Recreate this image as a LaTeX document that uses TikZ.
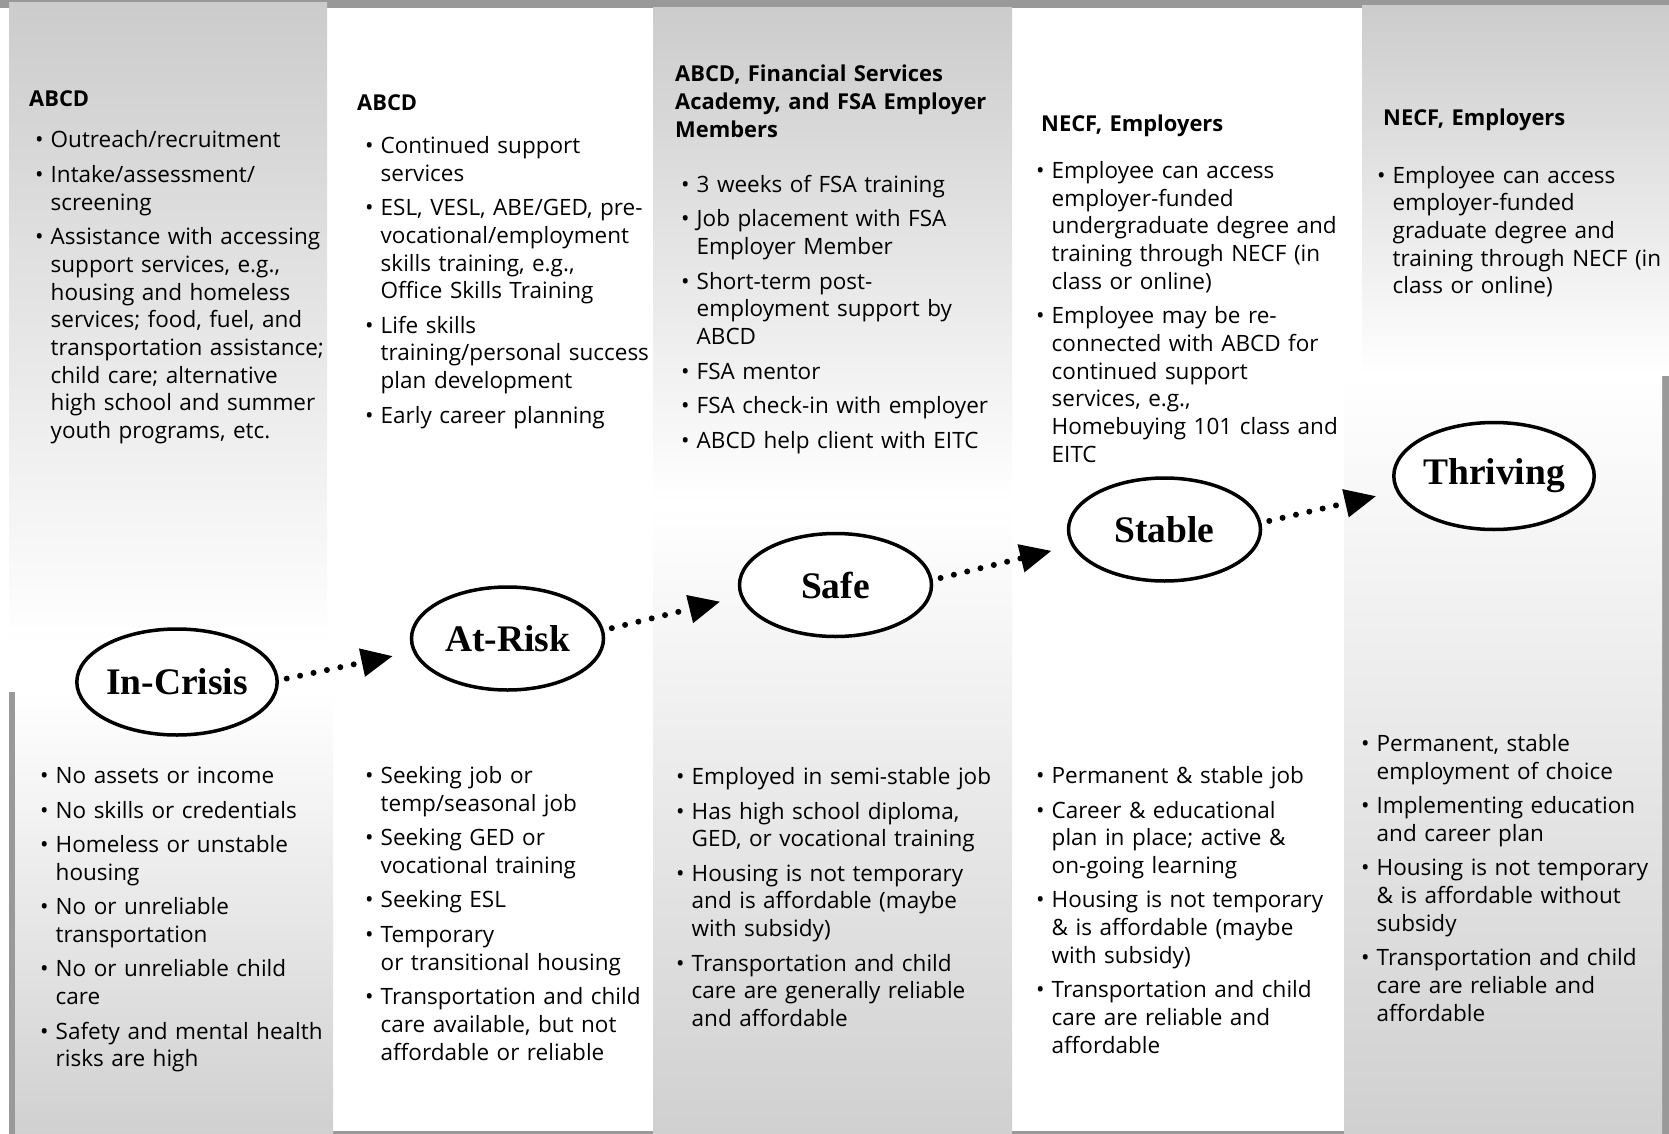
\documentclass[tikz,border=0pt]{standalone}
\usepackage{fontspec}
\setmainfont{Open Sans}
\newfontfamily\labelfont{Liberation Serif}
\usetikzlibrary{shapes.geometric,arrows.meta}
\definecolor{bandgray}{HTML}{999999}
\definecolor{topgray}{HTML}{CCCCCC}
\definecolor{botgray}{HTML}{D0D0D0}
\newcommand\nl{\hfil\break}
\newcommand\bul[1]{\par\hangindent=15.5pt\hangafter=1\noindent\makebox[15.5pt][l]{•}\strut#1\par}
\tikzset{
  blk/.style={anchor=north west, inner sep=0pt, text width=400pt, align=left,
    font=\fontsize{22.5}{27.7}\selectfont,
    execute at begin node={\setlength{\parskip}{6.8pt}}},
  hdr/.style={blk, font=\bfseries\fontsize{21.9}{27.7}\selectfont},
  stage/.style={ellipse, draw=black, line width=3.5pt, fill=white,
    minimum width=192pt, minimum height=103pt, inner sep=0pt,
    font=\labelfont\bfseries\fontsize{37.5}{40}\selectfont},
  flow/.style={line width=6pt, line cap=round, dash pattern=on 0pt off 13.7pt,
    -{Triangle[length=31pt,width=29pt,line width=0pt]}, shorten >=21pt, shorten <=8pt},
}
\begin{document}
\begin{tikzpicture}[x=1pt,y=-1pt]
\useasboundingbox (0,0) rectangle (1669,1134);
% background
\fill[white] (0,0) rectangle (1669,1134);
\fill[bandgray] (0,0) rectangle (1669,8);
\shade[top color=topgray, bottom color=white] (9,3) rectangle (327,645);
\shade[top color=topgray, bottom color=white] (653,8) rectangle (1012,505);
\shade[top color=topgray, bottom color=white] (1362,6) rectangle (1669,375);
\fill[bandgray] (9,692) rectangle (15,1134);
\fill[bandgray] (333,1131) rectangle (1344,1134);
\fill[bandgray] (1662,376) rectangle (1669,1134);
\shade[top color=white, bottom color=botgray] (15,692) rectangle (333,1134);
\shade[top color=white, bottom color=botgray] (653,505) rectangle (1012,1134);
\shade[top color=white, bottom color=botgray] (1344,376) rectangle (1662,1134);

% headers
\node[hdr] (h1) at (29,86.6) {\strut ABCD};
\node[hdr] (h2) at (357,90.6) {\strut ABCD};
\node[hdr] (h3) at (675,62.1) {\strut ABCD, Financial Services\nl Academy, and FSA Employer\nl Members};
\node[hdr] (h4) at (1041,112.1) {\strut NECF, Employers};
\node[hdr] (h5) at (1383,105.6) {\strut NECF, Employers};

% top lists
\node[blk] (t1) at (35,113.3) {\bul{Outreach/recruitment}\bul{Intake/assessment/\nl screening}\bul{Assistance with accessing\nl support services, e.g.,\nl housing and homeless\nl services; food, fuel, and\nl transportation assistance;\nl child care; alternative\nl high school and summer\nl youth programs, etc.}};
\node[blk] (t2) at (365,118.8) {\bul{Continued support\nl services}\bul{ESL, VESL, ABE/GED, pre-\nl vocational/employment\nl skills training, e.g.,\nl Office Skills Training}\bul{Life skills\nl training/personal success\nl plan development}\bul{Early career planning}};
\node[blk] (t3) at (681,157.8) {\bul{3 weeks of FSA training}\bul{Job placement with FSA\nl Employer Member}\bul{Short-term post-\nl employment support by\nl ABCD}\bul{FSA mentor}\bul{FSA check-in with employer}\bul{ABCD help client with EITC}};
\node[blk] (t4) at (1036,143.8) {\bul{Employee can access\nl employer-funded\nl undergraduate degree and\nl training through NECF (in\nl class or online)}\bul{Employee may be re-\nl connected with ABCD for\nl continued support\nl services, e.g.,\nl Homebuying 101 class and\nl EITC}};
\node[blk] (t5) at (1377,148.4) {\bul{Employee can access\nl employer-funded\nl graduate degree and\nl training through NECF (in\nl class or online)}};

% bottom lists
\node[blk] (b1) at (40,748.8) {\bul{No assets or income}\bul{No skills or credentials}\bul{Homeless or unstable\nl housing}\bul{No or unreliable\nl transportation}\bul{No or unreliable child\nl care}\bul{Safety and mental health\nl risks are high}};
\node[blk] (b2) at (365,748.8) {\bul{Seeking job or\nl temp/seasonal job}\bul{Seeking GED or\nl vocational training}\bul{Seeking ESL}\bul{Temporary\nl or transitional housing}\bul{Transportation and child\nl care available, but not\nl affordable or reliable}};
\node[blk] (b3) at (676,749.8) {\bul{Employed in semi-stable job}\bul{Has high school diploma,\nl GED, or vocational training}\bul{Housing is not temporary\nl and is affordable (maybe\nl with subsidy)}\bul{Transportation and child\nl care are generally reliable\nl and affordable}};
\node[blk] (b4) at (1036,748.8) {\bul{Permanent \& stable job}\bul{Career \& educational\nl plan in place; active \&\nl on-going learning}\bul{Housing is not temporary\nl \& is affordable (maybe\nl with subsidy)}\bul{Transportation and child\nl care are reliable and\nl affordable}};
\node[blk] (b5) at (1361,716.8) {\bul{Permanent, stable\nl employment of choice}\bul{Implementing education\nl and career plan}\bul{Housing is not temporary\nl \& is affordable without\nl subsidy}\bul{Transportation and child\nl care are reliable and\nl affordable}};

% stages
\node[stage, minimum width=195pt, minimum height=106pt] (ic) at (177,682) {In-Crisis};
\node[stage] (ar) at (507.5,638.5) {At-Risk};
\node[stage] (sa) at (835.5,585) {Safe};
\node[stage] (st) at (1164.5,529.5) {Stable};
\node[stage, minimum width=195pt, minimum height=107pt] (th) at (1494,476) {Thriving};

% arrows
\draw[flow] (ic.1) -- (ar.188);
\draw[flow] (ar.5) -- (sa.187);
\draw[flow] (sa.3) -- (st.190);
\draw[flow] (st.4) -- (th.189);
\end{tikzpicture}
\end{document}
